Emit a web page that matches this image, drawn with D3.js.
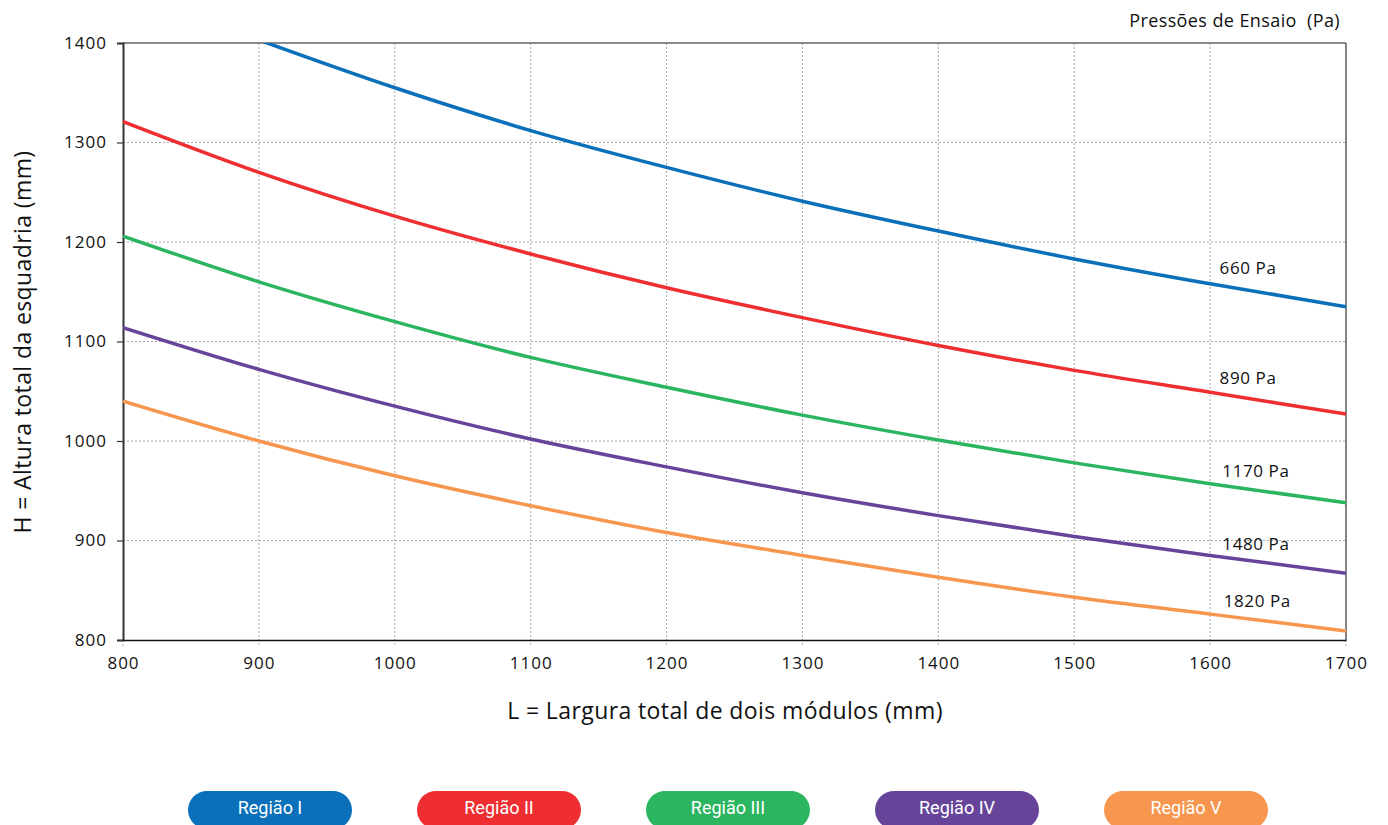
<!DOCTYPE html>
<html>
<head>
<meta charset="utf-8">
<script src="https://cdn.jsdelivr.net/npm/d3@7/dist/d3.min.js"></script>
<style>
  body { margin: 0; background: #fff; }
  svg { display: block; font-family: "Open Sans", "Noto Sans", sans-serif; }
</style>
</head>
<body>
<svg id="chart" width="1388" height="825"></svg>
<script>
// ---- data ----
const widths = [800, 900, 1000, 1100, 1200, 1300, 1400, 1500, 1600, 1700];
const h660  = [null, 1403, 1355, 1312, 1275, 1241, 1211, 1183, 1158, 1135];
const h890  = [1321, 1270, 1226, 1188, 1154, 1124, 1096, 1071, 1049, 1027];
const h1170 = [1206, 1160, 1120, 1084, 1054, 1026, 1001, 978, 957, 938];
const h1480 = [1114, 1072, 1035, 1002, 974, 948, 925, 904, 885, 867];
const h1820 = [1040, 1000, 965, 935, 908, 885, 863, 843, 826, 809];
const seriesNames = ["660 Pa", "890 Pa", "1170 Pa", "1480 Pa", "1820 Pa"];
const regions = ["Região I", "Região II", "Região III", "Região IV", "Região V"];
const colors = ["#0a70b9", "#ee2e31", "#2bb560", "#66449a", "#f7964f"];
const labelX = [1607, 1607, 1609, 1609, 1610];
const labelY = [1174, 1063, 970, 896, 839];
const xTicks = [800, 900, 1000, 1100, 1200, 1300, 1400, 1500, 1600, 1700];
const yTicks = [800, 900, 1000, 1100, 1200, 1300, 1400];

const allSeries = [h660, h890, h1170, h1480, h1820];
const FONT = '"Open Sans", "Noto Sans", sans-serif';

const svg = d3.select("#chart");
const m = { left: 123, right: 1346, top: 43, bottom: 640 };
const x = d3.scaleLinear().domain([800, 1700]).range([m.left, m.right]);
const y = d3.scaleLinear().domain([800, 1400]).range([m.bottom, m.top]);

svg.append("defs").append("clipPath").attr("id", "clip")
  .append("rect").attr("x", m.left).attr("y", m.top)
  .attr("width", m.right - m.left).attr("height", m.bottom - m.top);

// grid
const grid = svg.append("g");
grid.selectAll("line.vx").data(xTicks.slice(1, -1)).join("line")
  .attr("x1", d => x(d)).attr("x2", d => x(d))
  .attr("y1", m.top).attr("y2", m.bottom + 7)
  .attr("stroke", "#a8a8a8").attr("stroke-width", 1).attr("stroke-dasharray", "2,2");
grid.selectAll("line.vx0").data([800, 1700]).join("line")
  .attr("x1", d => x(d)).attr("x2", d => x(d))
  .attr("y1", m.bottom).attr("y2", m.bottom + 7)
  .attr("stroke", "#a8a8a8").attr("stroke-width", 1).attr("stroke-dasharray", "2,2");
grid.selectAll("line.hy").data(yTicks.slice(1, -1)).join("line")
  .attr("x1", m.left).attr("x2", m.right)
  .attr("y1", d => y(d)).attr("y2", d => y(d))
  .attr("stroke", "#a8a8a8").attr("stroke-width", 1).attr("stroke-dasharray", "2,2");

// frame
svg.append("line").attr("x1", m.left).attr("x2", m.right).attr("y1", m.top).attr("y2", m.top)
  .attr("stroke", "#666").attr("stroke-width", 1.5);
svg.append("line").attr("x1", m.right).attr("x2", m.right).attr("y1", m.top).attr("y2", m.bottom)
  .attr("stroke", "#333").attr("stroke-width", 1.2);

// axes
const yAxis = svg.append("g").attr("transform", `translate(${m.left},0)`)
  .call(d3.axisLeft(y).tickValues(yTicks).tickSize(6).tickPadding(10).tickFormat(d3.format("d")));
yAxis.attr("font-family", FONT);
yAxis.select(".domain").attr("stroke", "#333").attr("stroke-width", 2);
yAxis.selectAll(".tick line").attr("stroke", "#333").attr("stroke-width", 1.2);
yAxis.selectAll("text").attr("font-size", 17).attr("letter-spacing", 1).attr("fill", "#111");

const xAxis = svg.append("g").attr("transform", `translate(0,${m.bottom})`)
  .call(d3.axisBottom(x).tickValues(xTicks).tickSize(0).tickPadding(17).tickFormat(d3.format("d")));
xAxis.attr("font-family", FONT);
xAxis.select(".domain").attr("stroke", "#111").attr("stroke-width", 1.5);
xAxis.selectAll("text").attr("font-size", 17).attr("letter-spacing", 1).attr("fill", "#111");

// curves
const line = d3.line()
  .defined(d => d[1] !== null)
  .x(d => x(d[0])).y(d => y(d[1]))
  .curve(d3.curveMonotoneX);
const curves = svg.append("g").attr("clip-path", "url(#clip)");
allSeries.forEach((s, i) => {
  curves.append("path")
    .datum(widths.map((w, j) => [w, s[j]]))
    .attr("d", line)
    .attr("fill", "none").attr("stroke", colors[i]).attr("stroke-width", 3.5);
});

// series labels
svg.append("g").selectAll("text").data(seriesNames).join("text")
  .attr("x", (d, i) => x(labelX[i])).attr("y", (d, i) => y(labelY[i]))
  .attr("dy", "0.35em").attr("font-size", 17).attr("letter-spacing", 0.6)
  .attr("fill", "#111").text(d => d);

// titles
svg.append("text").attr("x", 1340).attr("y", 27).attr("text-anchor", "end")
  .attr("font-size", 18).attr("letter-spacing", 0.4).attr("fill", "#111")
  .style("white-space", "pre").text("Pressões de Ensaio  (Pa)");
svg.append("text").attr("x", 725).attr("y", 719).attr("text-anchor", "middle")
  .attr("font-size", 23).attr("letter-spacing", 0.4).attr("fill", "#111")
  .text("L = Largura total de dois módulos (mm)");
svg.append("text").attr("transform", "translate(31,342) rotate(-90)").attr("text-anchor", "middle")
  .attr("font-size", 23).attr("letter-spacing", 0.4).attr("fill", "#111")
  .text("H = Altura total da esquadria (mm)");

// legend pills
const lg = svg.append("g");
regions.forEach((r, i) => {
  const cx = 270 + i * 229;
  lg.append("rect").attr("x", cx - 82).attr("y", 791).attr("width", 164).attr("height", 38)
    .attr("rx", 19).attr("fill", colors[i]);
  lg.append("text").attr("x", cx).attr("y", 808).attr("dy", "0.35em").attr("text-anchor", "middle")
    .attr("font-family", "Roboto, sans-serif")
    .attr("font-size", 18).attr("fill", "#fff").text(r);
});
</script>
</body>
</html>
